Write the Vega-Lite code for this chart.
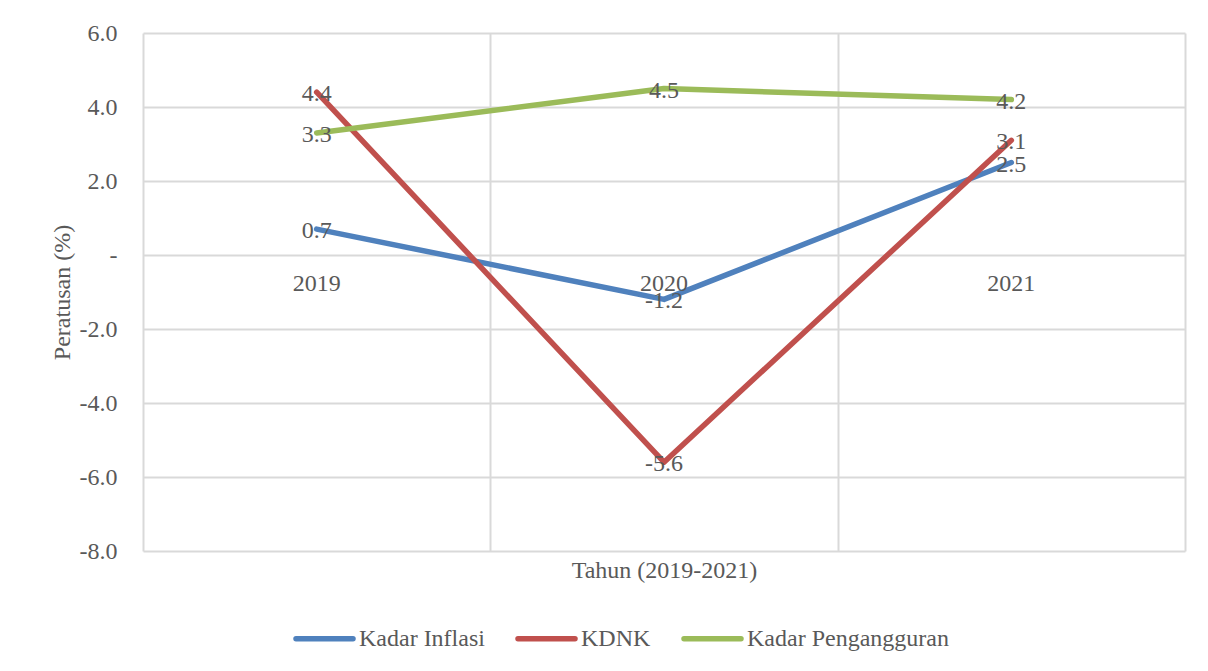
{
  "$schema": "https://vega.github.io/schema/vega-lite/v6.json",
  "width": 1042,
  "height": 518,
  "autosize": {"type": "none"},
  "padding": {"left": 143, "top": 33, "right": 23, "bottom": 120},
  "background": "white",
  "config": {
    "locale": {"number": {"decimal": ".", "thousands": ",", "grouping": [3], "currency": ["", ""], "minus": "-"}},
    "view": {"stroke": null},
    "font": "Liberation Serif",
    "axis": {
      "labelFont": "Liberation Serif",
      "titleFont": "Liberation Serif",
      "labelColor": "#595959",
      "titleColor": "#595959",
      "labelFontSize": 24,
      "titleFontSize": 24,
      "titleFontWeight": "normal",
      "gridColor": "#d9d9d9",
      "gridWidth": 2,
      "domain": false,
      "ticks": false
    }
  },
  "data": {
    "values": [
      {"year": "2019", "series": "Kadar Inflasi", "value": 0.7},
      {"year": "2020", "series": "Kadar Inflasi", "value": -1.2},
      {"year": "2021", "series": "Kadar Inflasi", "value": 2.5},
      {"year": "2019", "series": "KDNK", "value": 4.4},
      {"year": "2020", "series": "KDNK", "value": -5.6},
      {"year": "2021", "series": "KDNK", "value": 3.1},
      {"year": "2019", "series": "Kadar Pengangguran", "value": 3.3},
      {"year": "2020", "series": "Kadar Pengangguran", "value": 4.5},
      {"year": "2021", "series": "Kadar Pengangguran", "value": 4.2}
    ]
  },
  "layer": [
    {
      "mark": {"type": "line", "strokeWidth": 5.5, "strokeCap": "round", "strokeJoin": "round"},
      "encoding": {
        "x": {
          "field": "year", "type": "nominal", "bandPosition": 0.5,
          "scale": {"type": "band", "paddingInner": 0, "paddingOuter": 0},
          "axis": {"labels": false, "grid": true, "tickBand": "extent", "title": "Tahun (2019-2021)", "titlePadding": 7}
        },
        "y": {
          "field": "value", "type": "quantitative",
          "scale": {"domain": [-8, 6], "nice": false, "zero": false},
          "axis": {
            "values": [-8, -6, -4, -2, 0, 2, 4, 6],
            "labelExpr": "datum.value == 0 ? '-' : format(datum.value, '.1f')",
            "title": "Peratusan (%)",
            "labelPadding": 26,
            "titlePadding": 5
          }
        },
        "color": {
          "field": "series", "type": "nominal",
          "scale": {"domain": ["Kadar Inflasi", "KDNK", "Kadar Pengangguran"], "range": ["#4f81bd", "#c0504d", "#9bbb59"]},
          "legend": {
            "title": null,
            "orient": "none",
            "legendX": 150,
            "legendY": 574,
            "direction": "horizontal",
            "symbolType": "stroke",
            "symbolStrokeWidth": 5.5,
            "symbolSize": 3249,
            "labelFont": "Liberation Serif",
            "labelFontSize": 24,
            "labelColor": "#595959",
            "labelOffset": 3,
            "columnPadding": 22,
            "labelLimit": 400,
            "encode": {"symbols": {"update": {"strokeCap": {"value": "round"}}}}
          }
        }
      }
    },
    {
      "mark": {"type": "text", "font": "Liberation Serif", "fontSize": 24, "color": "#595959", "baseline": "middle", "align": "center", "dy": 2},
      "encoding": {
        "x": {"field": "year", "type": "nominal", "bandPosition": 0.5},
        "y": {"field": "value", "type": "quantitative"},
        "text": {"field": "value", "type": "quantitative", "format": ".1f"}
      }
    },
    {
      "data": {"values": [{"year": "2019"}, {"year": "2020"}, {"year": "2021"}]},
      "mark": {"type": "text", "font": "Liberation Serif", "fontSize": 24, "color": "#595959", "baseline": "middle", "align": "center", "dy": 29},
      "encoding": {
        "x": {"field": "year", "type": "nominal", "bandPosition": 0.5},
        "y": {"datum": 0, "type": "quantitative"},
        "text": {"field": "year", "type": "nominal"}
      }
    }
  ]
}
